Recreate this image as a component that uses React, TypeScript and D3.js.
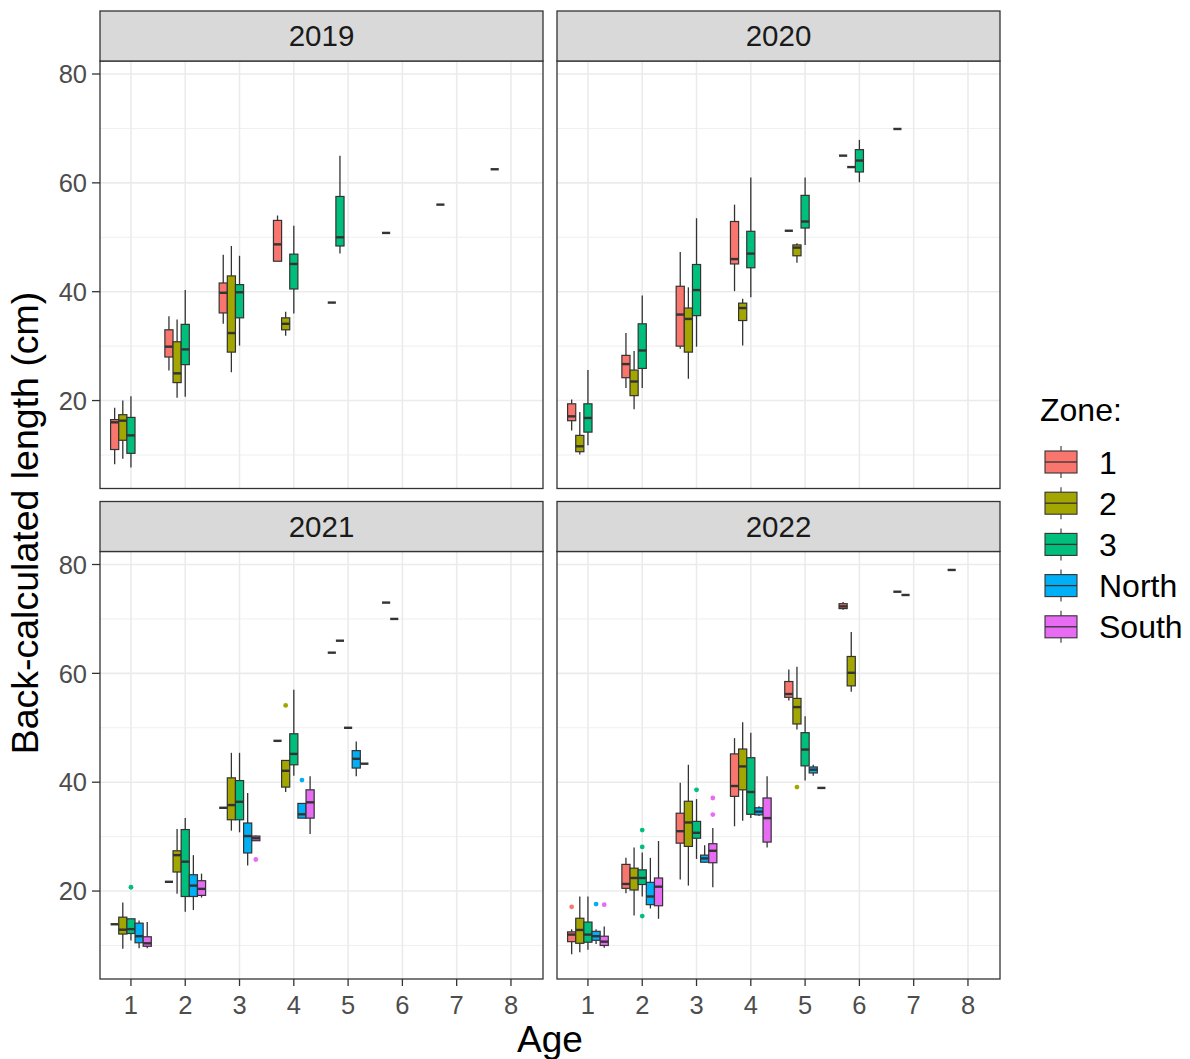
import React from "react";
import * as d3 from "d3";

// Zones and their fill colours
const ZONES = ["1", "2", "3", "North", "South"];
const ZONE_COLORS = ["#F8766D", "#A3A500", "#00BF7D", "#00B0F6", "#E76BF3"];

const AGE_TICKS = [1, 2, 3, 4, 5, 6, 7, 8];
const LENGTH_TICKS = [20, 40, 60, 80];
const LENGTH_MINOR = [10, 30, 50, 70];

// Box statistics: [age, zone, lower whisker, Q1, median, Q3, upper whisker]
type Box = [number, string, number, number, number, number, number];
// Outlying points: [age, zone, length]
type Outlier = [number, string, number];

const boxes2019: Box[] = [
  [1, "1", 8.3, 11.0, 16.0, 16.5, 18.7],
  [1, "2", 9.3, 12.7, 16.3, 17.4, 20.0],
  [1, "3", 7.7, 10.3, 13.6, 16.9, 20.8],
  [2, "1", 25.5, 28.0, 29.9, 33.0, 35.5],
  [2, "2", 20.5, 23.3, 25.0, 30.8, 34.9],
  [2, "3", 20.7, 26.6, 29.4, 34.0, 40.3],
  [3, "1", 34.1, 36.1, 39.8, 41.6, 46.8],
  [3, "2", 25.2, 28.9, 32.4, 42.9, 48.4],
  [3, "3", 30.1, 35.2, 39.9, 41.3, 46.6],
  [4, "1", 45.6, 45.6, 48.7, 53.1, 54.0],
  [4, "2", 31.9, 33.0, 34.1, 35.2, 36.3],
  [4, "3", 36.0, 40.5, 45.1, 46.9, 52.1],
  [5, "1", 38.0, 38.0, 38.0, 38.0, 38.0],
  [5, "3", 47.0, 48.4, 50.0, 57.5, 65.0],
  [6, "3", 50.8, 50.8, 50.8, 50.8, 50.8],
  [7, "3", 56.0, 56.0, 56.0, 56.0, 56.0],
  [8, "3", 62.5, 62.5, 62.5, 62.5, 62.5],
];
const outliers2019: Outlier[] = [];

const boxes2020: Box[] = [
  [1, "1", 14.5, 16.3, 17.1, 19.4, 20.2],
  [1, "2", 10.1, 10.6, 11.6, 13.6, 17.9],
  [1, "3", 11.8, 14.2, 16.8, 19.4, 25.6],
  [2, "1", 22.3, 24.2, 26.7, 28.3, 32.4],
  [2, "2", 18.4, 20.9, 23.5, 25.6, 29.1],
  [2, "3", 22.3, 25.9, 29.2, 34.1, 39.3],
  [3, "1", 29.5, 30.0, 35.8, 41.0, 47.3],
  [3, "2", 24.0, 28.9, 35.0, 37.0, 40.8],
  [3, "3", 29.9, 35.6, 40.3, 45.0, 53.5],
  [4, "1", 40.1, 45.1, 46.0, 52.9, 56.0],
  [4, "2", 30.1, 34.7, 37.0, 37.9, 38.7],
  [4, "3", 39.0, 44.4, 47.0, 51.1, 61.0],
  [5, "1", 51.2, 51.2, 51.2, 51.2, 51.2],
  [5, "2", 45.3, 46.6, 48.1, 48.6, 48.9],
  [5, "3", 48.6, 51.7, 52.9, 57.7, 61.0],
  [6, "1", 65.0, 65.0, 65.0, 65.0, 65.0],
  [6, "2", 62.9, 62.9, 62.9, 62.9, 62.9],
  [6, "3", 60.1, 62.0, 64.1, 66.1, 67.9],
  [7, "3", 69.9, 69.9, 69.9, 69.9, 69.9],
];
const outliers2020: Outlier[] = [];

const boxes2021: Box[] = [
  [1, "1", 13.9, 13.9, 13.9, 13.9, 13.9],
  [1, "2", 9.4, 12.1, 12.9, 15.2, 17.9],
  [1, "3", 10.9, 12.2, 13.0, 14.9, 14.9],
  [1, "North", 9.5, 10.5, 11.7, 14.1, 14.6],
  [1, "South", 9.5, 9.85, 10.4, 11.6, 14.3],
  [2, "1", 21.7, 21.7, 21.7, 21.7, 21.7],
  [2, "2", 19.5, 23.5, 26.6, 27.4, 31.4],
  [2, "3", 16.2, 19.0, 25.4, 31.3, 33.4],
  [2, "North", 16.5, 19.0, 21.0, 23.0, 26.6],
  [2, "South", 18.8, 19.2, 20.4, 21.9, 23.2],
  [3, "1", 35.3, 35.3, 35.3, 35.3, 35.3],
  [3, "2", 31.1, 33.1, 35.8, 40.8, 45.4],
  [3, "3", 30.8, 33.1, 36.4, 40.3, 45.4],
  [3, "North", 24.7, 27.0, 30.1, 32.5, 38.0],
  [3, "South", 29.2, 29.25, 29.7, 30.1, 30.2],
  [4, "1", 47.6, 47.6, 47.6, 47.6, 47.6],
  [4, "2", 38.2, 39.1, 42.1, 44.0, 44.0],
  [4, "3", 41.2, 43.2, 45.2, 48.9, 57.0],
  [4, "North", 33.4, 33.4, 34.1, 36.1, 36.1],
  [4, "South", 30.5, 33.4, 36.3, 38.6, 41.1],
  [5, "1", 63.8, 63.8, 63.8, 63.8, 63.8],
  [5, "2", 66.0, 66.0, 66.0, 66.0, 66.0],
  [5, "3", 50.0, 50.0, 50.0, 50.0, 50.0],
  [5, "North", 41.1, 42.6, 44.3, 45.8, 47.5],
  [5, "South", 43.4, 43.4, 43.4, 43.4, 43.4],
  [6, "2", 73.0, 73.0, 73.0, 73.0, 73.0],
  [6, "3", 70.0, 70.0, 70.0, 70.0, 70.0],
];
const outliers2021: Outlier[] = [
  [1, "3", 20.7],
  [3, "South", 25.8],
  [4, "2", 54.1],
  [4, "North", 40.4],
];

const boxes2022: Box[] = [
  [1, "1", 8.4, 10.7, 12.0, 12.5, 13.0],
  [1, "2", 8.75, 10.4, 12.85, 15.0, 19.0],
  [1, "3", 9.2, 10.6, 12.0, 14.3, 19.0],
  [1, "North", 10.25, 10.95, 11.7, 12.6, 13.0],
  [1, "South", 9.6, 10.0, 10.7, 11.7, 13.5],
  [2, "1", 19.6, 20.5, 21.3, 24.9, 26.1],
  [2, "2", 15.5, 20.2, 22.4, 24.2, 28.0],
  [2, "3", 19.0, 21.2, 22.4, 23.9, 27.1],
  [2, "North", 16.8, 17.5, 19.0, 21.6, 26.1],
  [2, "South", 14.9, 17.3, 20.8, 22.4, 29.2],
  [3, "1", 22.1, 28.8, 31.0, 34.3, 39.9],
  [3, "2", 21.0, 28.2, 32.6, 36.5, 43.2],
  [3, "3", 25.9, 29.7, 30.7, 32.8, 36.9],
  [3, "North", 25.2, 25.3, 26.0, 26.6, 28.4],
  [3, "South", 20.7, 25.2, 27.4, 28.7, 31.6],
  [4, "1", 31.9, 37.4, 39.3, 45.2, 48.1],
  [4, "2", 32.9, 38.6, 42.9, 46.1, 51.0],
  [4, "3", 33.4, 34.1, 38.2, 44.5, 49.1],
  [4, "North", 33.8, 34.0, 34.6, 35.3, 35.6],
  [4, "South", 28.0, 29.0, 33.4, 37.1, 41.1],
  [5, "1", 55.0, 55.6, 56.2, 58.5, 60.7],
  [5, "2", 49.7, 50.7, 53.8, 55.4, 61.2],
  [5, "3", 40.3, 43.0, 46.0, 49.1, 52.1],
  [5, "North", 41.2, 41.7, 42.3, 42.8, 43.2],
  [5, "South", 38.95, 38.95, 38.95, 38.95, 38.95],
  [6, "1", 71.7, 71.9, 72.3, 72.8, 73.1],
  [6, "2", 56.6, 57.7, 60.1, 63.1, 67.6],
  [7, "1", 75.0, 75.0, 75.0, 75.0, 75.0],
  [7, "2", 74.4, 74.4, 74.4, 74.4, 74.4],
  [8, "1", 79.0, 79.0, 79.0, 79.0, 79.0],
];
const outliers2022: Outlier[] = [
  [1, "1", 17.1],
  [1, "North", 17.6],
  [1, "South", 17.5],
  [2, "3", 31.2],
  [2, "3", 28.1],
  [2, "3", 15.4],
  [3, "3", 38.6],
  [3, "South", 37.1],
  [3, "South", 34.05],
  [5, "2", 39.1],
];

const FONT = "'Liberation Sans', Arial, Helvetica, sans-serif";
const PANEL_W = 443;
const PANEL_H = 427.5;
const STRIP_H = 50;
const DODGE = 0.75;
const N_SLOTS = ZONES.length;
const DARK = "#333333";

const PANELS = [
  { year: "2019", left: 100, top: 61, boxes: boxes2019, outliers: outliers2019, yAxis: true, xAxis: false },
  { year: "2020", left: 557, top: 61, boxes: boxes2020, outliers: outliers2020, yAxis: false, xAxis: false },
  { year: "2021", left: 100, top: 551.5, boxes: boxes2021, outliers: outliers2021, yAxis: true, xAxis: true },
  { year: "2022", left: 557, top: 551.5, boxes: boxes2022, outliers: outliers2022, yAxis: false, xAxis: true },
];

const x = d3.scaleLinear().domain([0.43, 8.59]).range([0, PANEL_W]);
const y = d3.scaleLinear().domain([3.84, 82.39]).range([PANEL_H, 0]);
const color = d3.scaleOrdinal<string, string>().domain(ZONES).range(ZONE_COLORS);

// Dodge: zones present at one age take consecutive slots, each a fifth of the dodge width
function slotCentre(age: number, zone: string, boxes: Box[]): number {
  const present = ZONES.filter((z) => boxes.some((b) => b[0] === age && b[1] === z));
  const k = present.indexOf(zone) + 1;
  return age + DODGE * ((k - 0.5) / N_SLOTS - 0.5);
}

function Panel({ p }: { p: (typeof PANELS)[number] }) {
  const bw = x(DODGE / N_SLOTS) - x(0);
  return (
    <g transform={`translate(${p.left},${p.top})`}>
      <rect x={0} y={0} width={PANEL_W} height={PANEL_H} fill="#FFFFFF" />
      {LENGTH_MINOR.map((v) => (
        <line key={`mn${v}`} x1={0} x2={PANEL_W} y1={y(v)} y2={y(v)} stroke="#EDEDED" strokeWidth={0.9} />
      ))}
      {LENGTH_TICKS.map((v) => (
        <line key={`mj${v}`} x1={0} x2={PANEL_W} y1={y(v)} y2={y(v)} stroke="#EBEBEB" strokeWidth={1.6} />
      ))}
      {AGE_TICKS.map((a) => (
        <line key={`ag${a}`} x1={x(a)} x2={x(a)} y1={0} y2={PANEL_H} stroke="#EBEBEB" strokeWidth={1.6} />
      ))}
      {p.boxes.map((b, i) => {
        const [age, zone, lo, q1, med, q3, hi] = b;
        const cx = x(slotCentre(age, zone, p.boxes));
        const outs = p.outliers.filter((o) => o[0] === age && o[1] === zone);
        return (
          <g key={`b${i}`}>
            {outs.map((o, j) => (
              <circle key={j} cx={cx} cy={y(o[2])} r={2.4} fill={color(zone)} />
            ))}
            <line x1={cx} x2={cx} y1={y(hi)} y2={y(q3)} stroke={DARK} strokeWidth={1.3} />
            <line x1={cx} x2={cx} y1={y(q1)} y2={y(lo)} stroke={DARK} strokeWidth={1.3} />
            <rect
              x={cx - bw / 2}
              y={y(q3)}
              width={bw}
              height={Math.max(0, y(q1) - y(q3))}
              fill={color(zone)}
              stroke={DARK}
              strokeWidth={1.2}
            />
            <line x1={cx - bw / 2} x2={cx + bw / 2} y1={y(med)} y2={y(med)} stroke={DARK} strokeWidth={2.4} />
          </g>
        );
      })}
      <rect x={0} y={0} width={PANEL_W} height={PANEL_H} fill="none" stroke={DARK} strokeWidth={1.3} />
      {/* strip */}
      <rect x={0} y={-STRIP_H} width={PANEL_W} height={STRIP_H} fill="#D9D9D9" stroke={DARK} strokeWidth={1.3} />
      <text
        x={PANEL_W / 2}
        y={-STRIP_H / 2}
        dy="0.35em"
        textAnchor="middle"
        fontFamily={FONT}
        fontSize={29.5}
        fill="#1A1A1A"
      >
        {p.year}
      </text>
      {p.yAxis &&
        LENGTH_TICKS.map((v) => (
          <g key={`yt${v}`}>
            <line x1={-8} x2={0} y1={y(v)} y2={y(v)} stroke={DARK} strokeWidth={1.3} />
            <text
              x={-13}
              y={y(v)}
              dy="0.36em"
              textAnchor="end"
              fontFamily={FONT}
              fontSize={25.5}
              fill="#4D4D4D"
            >
              {v}
            </text>
          </g>
        ))}
      {p.xAxis &&
        AGE_TICKS.map((a) => (
          <g key={`xt${a}`}>
            <line x1={x(a)} x2={x(a)} y1={PANEL_H} y2={PANEL_H + 7} stroke={DARK} strokeWidth={1.3} />
            <text
              x={x(a)}
              y={PANEL_H + 34.5}
              textAnchor="middle"
              fontFamily={FONT}
              fontSize={25.5}
              fill="#4D4D4D"
            >
              {a}
            </text>
          </g>
        ))}
    </g>
  );
}

function Legend() {
  const left = 1045;
  const kw = 32;
  const kh = 22;
  return (
    <g>
      <text x={1040} y={421} fontFamily={FONT} fontSize={32} fill="#000000">
        Zone:
      </text>
      {ZONES.map((z, i) => {
        const cy = 462 + i * 41.2;
        return (
          <g key={z}>
            <line x1={left + kw / 2} x2={left + kw / 2} y1={cy - 16} y2={cy + 16} stroke={DARK} strokeWidth={1.1} />
            <rect x={left} y={cy - kh / 2} width={kw} height={kh} fill={color(z)} stroke={DARK} strokeWidth={1.1} />
            <line x1={left} x2={left + kw} y1={cy} y2={cy} stroke={DARK} strokeWidth={1.3} />
            <text x={1099} y={cy + 11.5} fontFamily={FONT} fontSize={32} fill="#000000">
              {z}
            </text>
          </g>
        );
      })}
    </g>
  );
}

export default function App() {
  return (
    <svg
      width={1190}
      height={1059}
      style={{ position: "absolute", left: 0, top: 0, background: "#FFFFFF" }}
    >
      <rect x={0} y={0} width={1190} height={1059} fill="#FFFFFF" />
      {PANELS.map((p) => (
        <Panel key={p.year} p={p} />
      ))}
      <text
        transform="translate(38,523) rotate(-90)"
        textAnchor="middle"
        fontFamily={FONT}
        fontSize={37.5}
        fill="#000000"
      >
        Back-calculated length (cm)
      </text>
      <text x={550} y={1052} textAnchor="middle" fontFamily={FONT} fontSize={37} fill="#000000">
        Age
      </text>
      <Legend />
    </svg>
  );
}
